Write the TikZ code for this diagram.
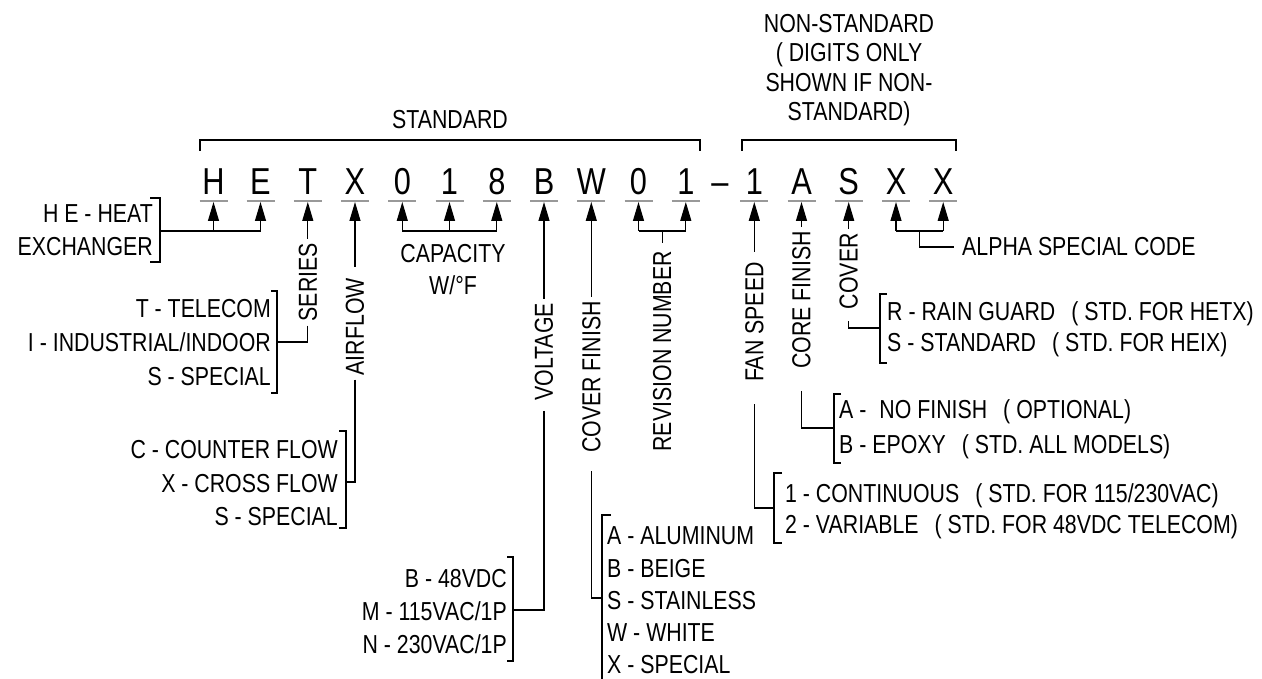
\documentclass[tikz,border=0pt]{standalone}
\usepackage{fontspec}
\setmainfont{Liberation Sans}[FakeStretch=0.82]
\usetikzlibrary{arrows.meta,calc}
\tikzset{
  lbl/.style={font=\fontsize{26}{30}\selectfont, inner sep=0pt},
  big/.style={font=\fontsize{37.5}{40}\selectfont, inner sep=0pt, anchor=base},
  vlbl/.style={lbl, rotate=90, anchor=east, inner xsep=4pt, inner ysep=0pt},
  ln/.style={line width=1.2pt},
  arr/.style={ln, -{Triangle[length=19pt,width=11pt]}},
  uline/.style={black!40, line width=1.2pt},
}
\begin{document}
\begin{tikzpicture}[x=1pt,y=-1pt]
\useasboundingbox (0,0) rectangle (1262,679);

% ---- code letters
\foreach \n/\x/\c in {H/213.5/H, E/260.5/E, T/307.8/T, X/355/X, Za/402.3/0, Oa/449.5/1, Ei/496.8/8, B/544/B, W/591.3/W, Zb/638.5/0, Ob/685.8/1, D/720/–, Oc/754.3/1, A/801.5/A, S/848.7/S, Xa/896/X, Xb/943.2/X}
  {\node[big] (L\n) at (\x,195) {\c};}
\foreach \n/\x in {H/213.5, E/260.5, T/307.8, X/355, Za/402.3, Oa/449.5, Ei/496.8, B/544, W/591.3, Zb/638.5, Ob/685.8, Oc/754.3, A/801.5, S/848.7, Xa/896, Xb/943.2}
  {\coordinate (t\n) at (\x,202); \draw[uline] (\x-14,201) -- (\x+14,201);}

% ---- top brackets
\node[lbl, anchor=base] (std) at (450,129) {STANDARD};
\draw[ln] (200,151) -- (200,140) -- (700,140) -- (700,151);
\node[lbl, anchor=base] (ns1) at (849,33) {NON-STANDARD};
\node[lbl, anchor=base] (ns2) at (849,62) {( DIGITS ONLY};
\node[lbl, anchor=base] (ns3) at (849,92) {SHOWN IF NON-};
\node[lbl, anchor=base] (ns4) at (849,121) {STANDARD)};
\draw[ln] (742,151) -- (742,140) -- (956,140) -- (956,151);

% ---- HE
\node[lbl, anchor=base east] (he1) at (153,223) {H E - HEAT};
\node[lbl, anchor=base east] (he2) at (153,256) {EXCHANGER};
\draw[ln] (150,198) -- (160,198) -- (160,262) -- (150,262);
\coordinate (heb) at (160,231);
\draw[ln] (heb) -- (tE |- heb);
\draw[arr] (tH |- heb) -- (tH);
\draw[arr] (tE |- heb) -- (tE);

% ---- SERIES
\node[vlbl] (ser) at (307.8,239) {SERIES};
\draw[arr] (ser.east) -- (tT);
\node[lbl, anchor=base east] (se1) at (271,318) {T - TELECOM};
\node[lbl, anchor=base east] (se2) at (271,352) {I - INDUSTRIAL/INDOOR};
\node[lbl, anchor=base east] (se3) at (271,385) {S - SPECIAL};
\draw[ln] (271,291) -- (277,291) -- (277,393) -- (271,393);
\draw[ln] (ser.west) |- (277,342);

% ---- AIRFLOW
\node[vlbl] (air) at (355,274) {AIRFLOW};
\draw[arr] ($(air.east)+(0,-7)$) -- (tX);
\node[lbl, anchor=base east] (af1) at (338,458) {C - COUNTER FLOW};
\node[lbl, anchor=base east] (af2) at (338,492) {X - CROSS FLOW};
\node[lbl, anchor=base east] (af3) at (338,525) {S - SPECIAL};
\draw[ln] (339,431) -- (346,431) -- (346,528) -- (339,528);
\draw[ln] (air.west) |- (346,482);

% ---- CAPACITY
\draw[ln] (tZa |- 0,231) -- (tEi |- 0,231);
\draw[arr] (tZa |- 0,231) -- (tZa);
\draw[arr] (tOa |- 0,231) -- (tOa);
\draw[arr] (tEi |- 0,231) -- (tEi);
\node[lbl, anchor=base] (cap1) at (453,263) {CAPACITY};
\node[lbl, anchor=base] (cap2) at (453,295) {W/°F};

% ---- VOLTAGE
\node[vlbl] (vol) at (544,299) {VOLTAGE};
\draw[arr] (vol.east) -- (tB);
\node[lbl, anchor=base east] (v1) at (507,587) {B - 48VDC};
\node[lbl, anchor=base east] (v2) at (507,620) {M - 115VAC/1P};
\node[lbl, anchor=base east] (v3) at (507,653) {N - 230VAC/1P};
\draw[ln] (507,557) -- (513,557) -- (513,661) -- (507,661);
\draw[ln] ($(vol.west)+(0,6)$) |- (513,610);

% ---- COVER FINISH
\node[vlbl] (cf) at (591.3,297) {COVER FINISH};
\draw[arr] (cf.east) -- (tW);
\node[lbl, anchor=base west] (c1) at (607,544) {A - ALUMINUM};
\node[lbl, anchor=base west] (c2) at (607,577) {B - BEIGE};
\node[lbl, anchor=base west] (c3) at (607,609) {S - STAINLESS};
\node[lbl, anchor=base west] (c4) at (607,641) {W - WHITE};
\node[lbl, anchor=base west] (c5) at (607,673) {X - SPECIAL};
\draw[ln] (611,515) -- (602,515) -- (602,679);
\draw[ln] ($(cf.west)+(0,14)$) |- (602,598);

% ---- REVISION NUMBER
\draw[ln] (tZb |- 0,231) -- (tOb |- 0,231);
\draw[arr] (tZb |- 0,231) -- (tZb);
\draw[arr] (tOb |- 0,231) -- (tOb);
\node[vlbl] (rev) at (662.2,247) {REVISION NUMBER};
\draw[ln] (662.2,231) -- (662.2,243);

% ---- FAN SPEED
\node[vlbl] (fan) at (754.3,258) {FAN SPEED};
\draw[arr] ($(fan.east)+(0,-6)$) -- (tOc);
\node[lbl, anchor=base west] (f1) at (785,502) {1 - CONTINUOUS\hspace{16pt}( STD. FOR 115/230VAC)};
\node[lbl, anchor=base west] (f2) at (785,533) {2 - VARIABLE\hspace{16pt}( STD. FOR 48VDC TELECOM)};
\draw[ln] (782,473) -- (774,473) -- (774,543) -- (782,543);
\draw[ln] ($(fan.west)+(0,18)$) |- (774,508);

% ---- CORE FINISH
\node[vlbl] (core) at (801.5,227) {CORE FINISH};
\draw[arr] (core.east) -- (tA);
\node[lbl, anchor=base west] (k1) at (839,418) {A -\hspace{13pt}NO FINISH\hspace{16pt}( OPTIONAL)};
\node[lbl, anchor=base west] (k2) at (839,453) {B - EPOXY\hspace{16pt}( STD. ALL MODELS)};
\draw[ln] (841,394) -- (834,394) -- (834,463) -- (841,463);
\draw[ln] ($(core.west)+(0,18)$) |- (834,428);

% ---- COVER
\node[vlbl] (cov) at (848.7,229) {COVER};
\draw[arr] (cov.east) -- (tS);
\node[lbl, anchor=base west] (r1) at (887,320) {R - RAIN GUARD\hspace{16pt}( STD. FOR HETX)};
\node[lbl, anchor=base west] (r2) at (887,352) {S - STANDARD\hspace{16pt}( STD. FOR HEIX)};
\draw[ln] (887,294) -- (880,294) -- (880,363) -- (887,363);
\draw[ln] ($(cov.west)+(0,8)$) |- (880,328);

% ---- ALPHA SPECIAL CODE
\draw[ln] (tXa |- 0,231) -- (tXb |- 0,231);
\draw[arr] (tXa |- 0,231) -- (tXa);
\draw[arr] (tXb |- 0,231) -- (tXb);
\node[lbl, anchor=base west] (alpha) at (962,256) {ALPHA SPECIAL CODE};
\draw[ln] (919.6,231) |- ($(alpha.west)+(-8,0)$);
\end{tikzpicture}
\end{document}
